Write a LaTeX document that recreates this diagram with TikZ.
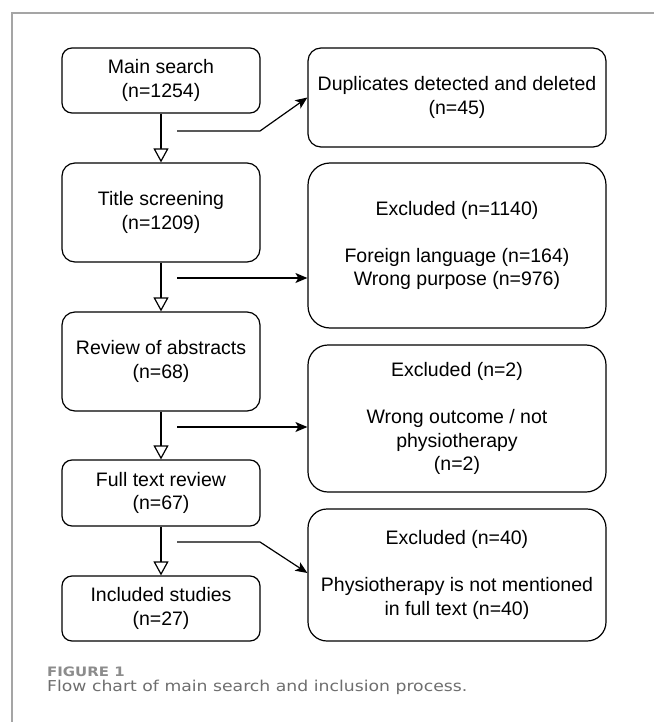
\documentclass[tikz,border=0pt]{standalone}
\usepackage{fontspec}
\setmainfont{Liberation Sans}
\newfontfamily\capfont{DejaVu Sans}
\usetikzlibrary{arrows.meta}
\definecolor{framegray}{RGB}{165,165,165}
\definecolor{capgray}{RGB}{110,110,110}
\definecolor{figgray}{RGB}{140,140,140}
\begin{document}
\begin{tikzpicture}[x=1pt,y=-1pt,
  box/.style={draw, line width=1.2pt, align=center, inner sep=0pt,
    font=\fontsize{19.5}{23.5}\selectfont},
  leftbox/.style={box, minimum width=198pt},
  rightbox/.style={box, minimum width=298pt},
  varrow/.style={line width=1.2pt, -{Triangle[open,length=14pt,width=15pt,fill=white]}},
  sarrow/.style={line width=1.2pt, -{Stealth[length=12pt,width=10pt,inset=3pt]}},
  frame/.style={draw=framegray, line width=1.2pt}
]
\useasboundingbox (0,0) rectangle (654,722);
\draw[frame] (12,722) -- (12,13) -- (654,13);

% left column
\node[leftbox, minimum height=65pt, rounded corners=10pt] (a) at (161,80.5) {Main search\\(n=1254)};
\node[leftbox, minimum height=99pt, rounded corners=13pt] (b) at (161,212.5) {Title screening\\(n=1209)};
\node[leftbox, minimum height=99pt, rounded corners=13pt] (c) at (161,361.5) {Review of abstracts\\(n=68)};
\node[leftbox, minimum height=66pt, rounded corners=10pt] (d) at (161,493) {Full text review\\(n=67)};
\node[leftbox, minimum height=65pt, rounded corners=10pt] (e) at (161,608.5) {Included studies\\(n=27)};

% right column
\node[rightbox, minimum height=99pt, rounded corners=13pt] (r1) at (457,97.5) {Duplicates detected and deleted\\(n=45)};
\node[rightbox, minimum height=165pt, rounded corners=22pt] (r2) at (457,245.5) {Excluded (n=1140)\\[23.5pt]Foreign language (n=164)\\Wrong purpose (n=976)};
\node[rightbox, minimum height=147pt, rounded corners=20pt] (r3) at (457,418.5) {Excluded (n=2)\\[23.5pt]Wrong outcome / not\\physiotherapy\\(n=2)};
\node[rightbox, minimum height=132pt, rounded corners=19pt] (r4) at (457,575) {Excluded (n=40)\\[23.5pt]Physiotherapy is not mentioned\\in full text (n=40)};

% vertical flow
\draw[varrow] (a.south) -- (b.north);
\draw[varrow] (b.south) -- (c.north);
\draw[varrow] (c.south) -- (d.north);
\draw[varrow] (d.south) -- (e.north);

% side connectors
\coordinate (s1) at (177,131);
\coordinate (k1) at (260,131);
\coordinate (s2) at (177,278);
\coordinate (s3) at (177,427);
\coordinate (s4) at (177,542);
\coordinate (k4) at (260,542);
\draw[sarrow] (s1) -- (k1) -- (r1.west);
\draw[sarrow] (s2) -- (r2.west |- s2);
\draw[sarrow] (s3) -- (r3.west |- s3);
\draw[sarrow] (s4) -- (k4) -- ([yshift=2pt]r4.west);

% caption
\node[anchor=base west, inner sep=0pt, text=figgray, font=\capfont\bfseries\fontsize{13}{15}\selectfont] (fig) at (47,676.7) {\scalebox{1.15}[1]{FIGURE 1}};
\node[anchor=base west, inner sep=0pt, text=capgray, font=\capfont\fontsize{15}{17}\selectfont] (cap) at (47,691.7) {\scalebox{1.15}[1]{Flow chart of main search and inclusion process.}};
\end{tikzpicture}
\end{document}
